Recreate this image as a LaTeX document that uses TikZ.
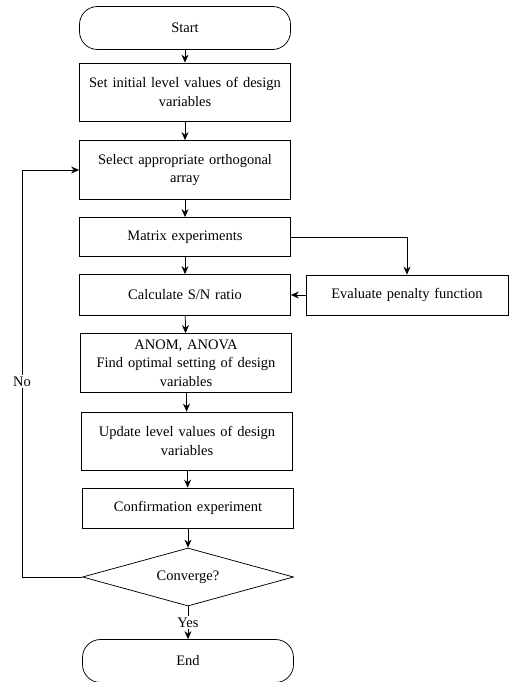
\documentclass[tikz,border=0pt]{standalone}
\usepackage{fontspec}
\setmainfont{Liberation Serif}
\usetikzlibrary{shapes.geometric,arrows.meta}
\begin{document}
\begin{tikzpicture}[x=1pt,y=-1pt,>={Stealth[length=8pt,width=7pt]},
  every path/.style={line width=0.75pt},
  box/.style={draw,minimum width=211pt,text width=200pt,align=center,font=\fontsize{14.5}{18.5}\selectfont},
  term/.style={box,rounded corners=18pt,minimum height=43pt},
  decision/.style={draw,diamond,aspect=3.64,minimum width=211pt,minimum height=58pt,inner sep=0pt,font=\fontsize{14.5}{18.5}\selectfont},
  lbl/.style={fill=white,inner sep=1.5pt,font=\fontsize{14.5}{18.5}\selectfont}]
\useasboundingbox (0,0) rectangle (521,682);
% main column
\node[term] (start) at (185,28) {Start};
\node[box,minimum height=58pt] (init) at (185,92) {Set initial level values of design\\variables};
\node[box,minimum height=59pt] (select) at (185,170) {Select appropriate orthogonal\\array};
\node[box,minimum height=39pt] (matrix) at (185,237) {Matrix experiments};
\node[box,minimum height=41pt] (calc) at (185,295) {Calculate S/N ratio};
\node[box,minimum width=202pt,text width=190pt,minimum height=40pt] (penalty) at (407,295) {Evaluate penalty function};
\node[box,minimum height=59pt] (anom) at (186,363) {ANOM, ANOVA\\Find optimal setting of design\\variables};
\node[box,minimum height=58pt] (update) at (187,441) {Update level values of design\\variables};
\node[box,minimum height=40pt] (confirm) at (188,508) {Confirmation experiment};
\node[decision] (conv) at (188,577) {Converge?};
\node[term] (end) at (188,661) {End};
\coordinate (back) at (22,577);
% connectors
\draw[->] (start) -- (init);
\draw[->] (init) -- (select);
\draw[->] (select) -- (matrix);
\draw[->] (matrix) -- (calc);
\draw[->] (matrix.east) -| (penalty.north);
\draw[->] (penalty) -- (calc);
\draw[->] (calc) -- (anom);
\draw[->] (anom) -- (update);
\draw[->] (update) -- (confirm);
\draw[->] (confirm) -- (conv);
\draw[->] (conv) -- node[lbl] {Yes} (end);
\draw[->] (conv.west) -- (back) |- node[lbl,pos=0.24] {No} (select.west);
\end{tikzpicture}
\end{document}
